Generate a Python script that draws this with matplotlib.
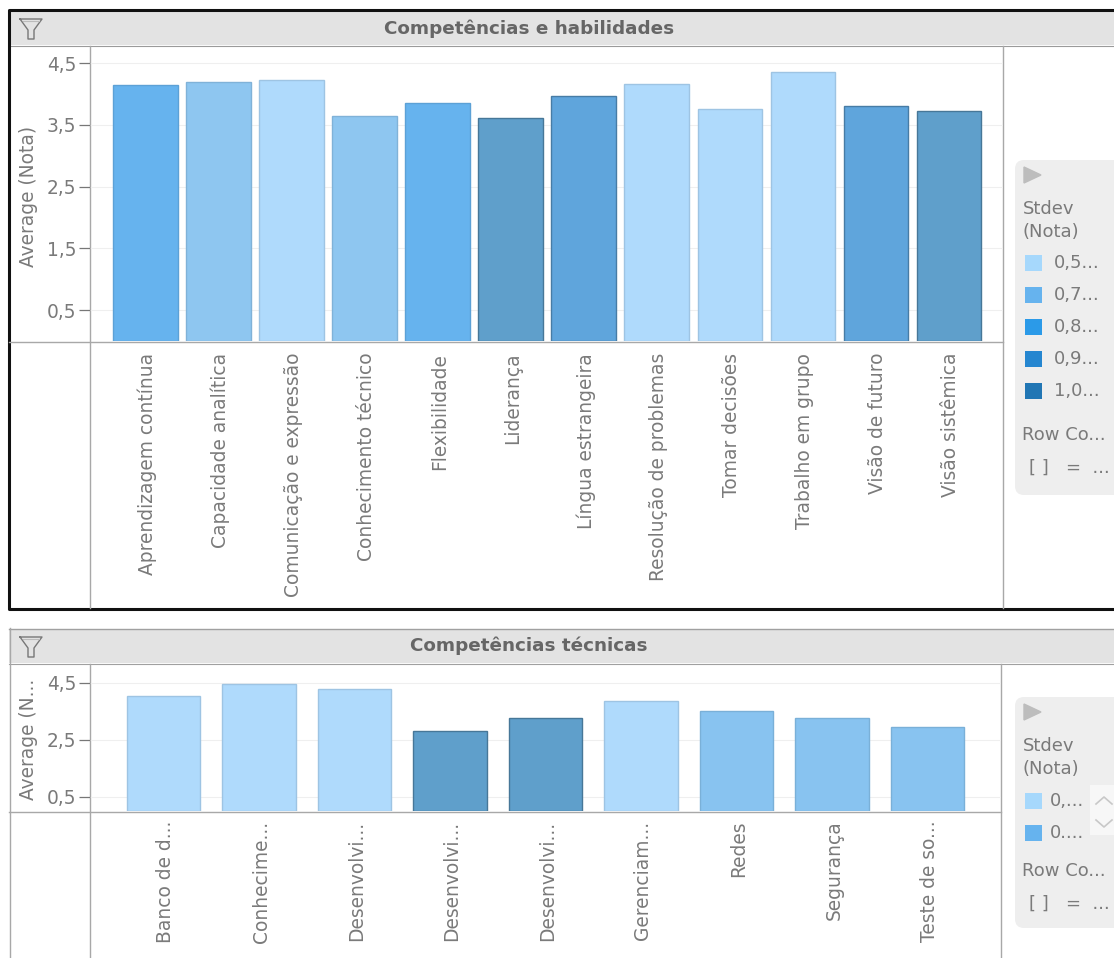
import matplotlib
matplotlib.use("Agg")
import matplotlib.pyplot as plt
from matplotlib.patches import FancyBboxPatch, Rectangle
from matplotlib.transforms import ScaledTranslation

W, H = 1114, 958

# top chart
skills = ["Aprendizagem contínua", "Capacidade analítica", "Comunicação e expressão",
          "Conhecimento técnico", "Flexibilidade", "Liderança", "Língua estrangeira",
          "Resolução de problemas", "Tomar decisões", "Trabalho em grupo",
          "Visão de futuro", "Visão sistêmica"]
skills_avg = [4.14, 4.19, 4.23, 3.64, 3.85, 3.61, 3.97, 4.16, 3.76, 4.36, 3.81, 3.72]
skills_col = ["#66B3EE", "#8EC6F0", "#AFDAFC", "#8EC6F0", "#66B3EE", "#5F9FCB",
              "#5FA5DC", "#AFDAFC", "#AFDAFC", "#AFDAFC", "#5FA5DC", "#5F9FCB"]
skills_ticks = [0.5, 1.5, 2.5, 3.5, 4.5]
skills_ticklabels = ["0,5", "1,5", "2,5", "3,5", "4,5"]

# bottom chart
tech = ["Banco de d...", "Conhecime...", "Desenvolvi...", "Desenvolvi...", "Desenvolvi...",
        "Gerenciam...", "Redes", "Segurança", "Teste de so..."]
tech_avg = [4.03, 4.46, 4.28, 2.81, 3.26, 3.86, 3.51, 3.26, 2.95]
tech_col = ["#AFDAFC", "#AFDAFC", "#AFDAFC", "#5F9FCB", "#5F9FCB",
            "#AFDAFC", "#88C3F0", "#88C3F0", "#88C3F0"]
tech_ticks = [0.5, 2.5, 4.5]
tech_ticklabels = ["0,5", "2,5", "4,5"]

# legends
legend1_labels = ["0,5...", "0,7...", "0,8...", "0,9...", "1,0..."]
legend1_cols = ["#A6D8FC", "#66B3EE", "#2B9AE8", "#2586D0", "#2176B4"]
legend2_labels = ["0,...", "0...."]
legend2_cols = ["#A6D8FC", "#66B3EE"]

GRAY = "#7A7A7A"
LINE = "#A8A8A8"
FS = 13.4

plt.rcParams['font.family'] = ['DejaVu Sans']
fig = plt.figure(figsize=(W / 100, H / 100), dpi=100)

# overlay in pixel coordinates for the dashboard chrome
bg = fig.add_axes([0, 0, 1, 1], zorder=0)
bg.set_xlim(0, W)
bg.set_ylim(H, 0)
bg.axis("off")


def darker(c):
    rgb = matplotlib.colors.to_rgb(c)
    # dark bars carry a stronger outline than the pale ones
    f = 0.75 if sum(rgb) < 2.0 else 0.9
    return tuple(v * f for v in rgb)


def funnel(x, y):
    xs = [x, x + 22, x + 14, x + 14, x + 8, x + 8, x]
    ys = [y, y, y + 11, y + 20, y + 20, y + 11, y]
    bg.plot(xs, ys, color="#777777", lw=1)
    bg.plot([x + 3, x + 19], [y + 2, y + 2], color="#BBBBBB", lw=0.8)


def chart_axes(left, right, top, bottom, ymax, xlim):
    ax = fig.add_axes([left / W, 1 - bottom / H, (right - left) / W, (bottom - top) / H],
                      zorder=2)
    ax.patch.set_alpha(0)
    ax.set_xlim(*xlim)
    ax.set_ylim(0, ymax)
    for s in ["top", "right", "left", "bottom"]:
        ax.spines[s].set_visible(False)
    ax.set_axisbelow(True)
    ax.grid(axis="y", color="#EFEFEF", lw=0.8)
    return ax


def draw_bars(ax, names, vals, cols, ticks, ticklabels, width, pad):
    xs = list(range(len(names)))
    ax.bar(xs, vals, width=width, color=cols, edgecolor=[darker(c) for c in cols], lw=1)
    ax.set_xticks(xs)
    ax.set_xticklabels(names, rotation=90, ha="center", va="top", color=GRAY, fontsize=FS)
    ax.tick_params(axis="x", length=0, pad=pad)
    shift = ScaledTranslation(2 / 100, 0, fig.dpi_scale_trans)
    for lab in ax.get_xticklabels():
        lab.set_transform(lab.get_transform() + shift)
    ax.set_yticks(ticks)
    ax.set_yticklabels(ticklabels, color=GRAY, fontsize=FS)
    ax.tick_params(axis="y", length=8, width=0.9, color="#777777", pad=2)


def legend_panel(x, y, w, h, labels, cols, sw_y, step, text_x, row_y):
    bg.add_patch(FancyBboxPatch((x, y), w + 20, h, boxstyle="round,pad=0,rounding_size=9",
                                fc="#EEEEEE", ec="none", zorder=1))
    bg.fill([x + 9, x + 9, x + 26], [y + 7, y + 23, y + 15], color="#BDBDBD", zorder=2)
    bg.text(x + 8, y + 49, "Stdev", color=GRAY, fontsize=FS - 0.4, va="center", zorder=3)
    bg.text(x + 8, y + 72, "(Nota)", color=GRAY, fontsize=FS - 0.4, va="center", zorder=3)
    for i, (lab, c) in enumerate(zip(labels, cols)):
        yy = sw_y + i * step
        bg.add_patch(Rectangle((x + 10, yy - 8), 17, 16, fc=c, ec="none", zorder=3))
        bg.text(text_x, yy, lab, color=GRAY, fontsize=FS - 0.4, va="center", zorder=3)
    bg.text(x + 7, row_y, "Row Co...", color=GRAY, fontsize=FS - 0.4, va="center", zorder=3)
    bg.text(x + 14, row_y + 33, "[ ]   =  ...", color=GRAY, fontsize=FS - 0.4, va="center", zorder=3)


# top panel
bg.add_patch(Rectangle((9, 12), W, 33, fc="#E3E3E3", ec="none"))
bg.plot([9, W], [45.5, 45.5], color="#9A9A9A", lw=0.8)
bg.plot([W, 8.5, 8.5, W], [10, 10, 609, 609], color="#111111", lw=2.2)
bg.plot([90, 90], [46, 608], color=LINE, lw=1)
bg.plot([1003, 1003], [46, 608], color=LINE, lw=1)
bg.plot([9, 1003], [341.5, 341.5], color=LINE, lw=1)
bg.text(529, 29, "Competências e habilidades", color="#666666", fontsize=13.2,
        fontweight="bold", ha="center", va="center")
bg.text(28, 196, "Average (Nota)", color=GRAY, fontsize=FS, rotation=90,
        ha="center", va="center")
funnel(20, 19)

ax1 = chart_axes(90, 1003, 46, 341, 295 / 61.75, (-0.76, 11.74))
draw_bars(ax1, skills, skills_avg, skills_col, skills_ticks, skills_ticklabels, 0.885, 8.5)
legend_panel(1015, 160, 99, 335, legend1_labels, legend1_cols, 263, 32, 1054, 435)

# bottom panel
bg.add_patch(Rectangle((9, 629), W, 34, fc="#E3E3E3", ec="none"))
bg.plot([9, W], [628.5, 628.5], color="#A0A0A0", lw=1)
bg.plot([9, W], [663.5, 663.5], color="#A0A0A0", lw=0.8)
bg.plot([9.5, 9.5], [628, H], color=LINE, lw=1)
bg.plot([90, 90], [664, H], color=LINE, lw=1)
bg.plot([1001, 1001], [664, H], color=LINE, lw=1)
bg.plot([9, 1001], [811.5, 811.5], color=LINE, lw=1)
bg.text(529, 646, "Competências técnicas", color="#666666", fontsize=13.2,
        fontweight="bold", ha="center", va="center")
bg.text(28, 739, "Average (N...", color=GRAY, fontsize=FS, rotation=90,
        ha="center", va="center")
funnel(20, 637)

ax2 = chart_axes(90, 1001, 664, 811, 147 / 28.5, (-0.77, 8.77))
draw_bars(ax2, tech, tech_avg, tech_col, tech_ticks, tech_ticklabels, 0.77, 7)
legend_panel(1015, 697, 99, 231, legend2_labels, legend2_cols, 801, 32, 1050, 871)

# legend scroll arrows
bg.add_patch(Rectangle((1090, 785), 24, 50, fc="#F7F7F7", ec="none", zorder=3))
bg.plot([1096, 1104, 1112], [804, 797, 804], color="#C8C8C8", lw=1.2, zorder=4)
bg.plot([1096, 1104, 1112], [820, 827, 820], color="#C8C8C8", lw=1.2, zorder=4)

fig.savefig("out.png", dpi=100)
